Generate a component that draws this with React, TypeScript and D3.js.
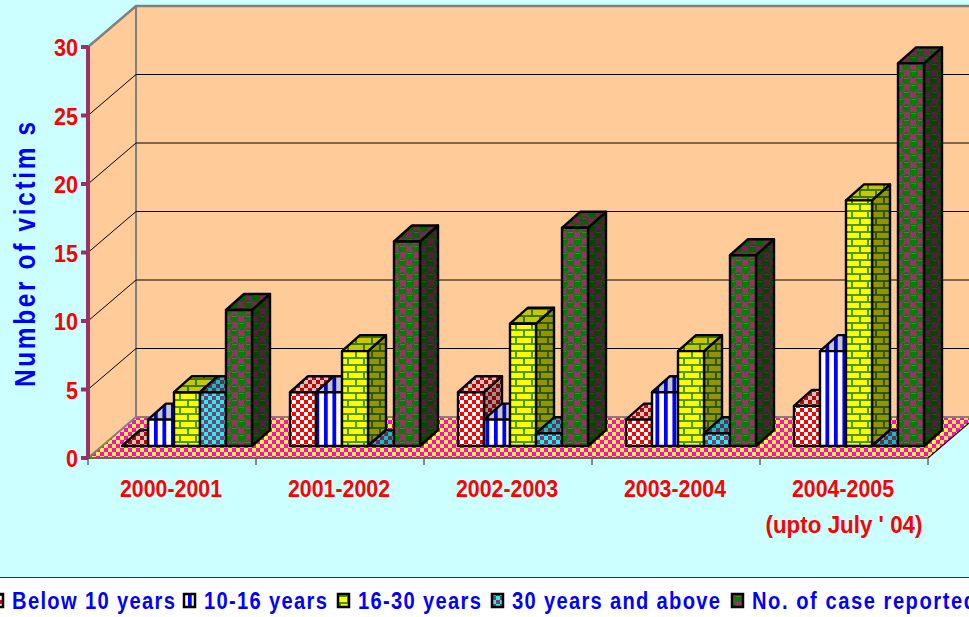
import React from "react";
import * as d3 from "d3";

const categories = ["2000-2001", "2001-2002", "2002-2003", "2003-2004", "2004-2005"];
const seriesNames = ["Below 10 years", "10-16 years", "16-30 years", "30 years and above", "No. of case reported"];
const below10 = [0, 4, 4, 2, 3];
const age10to16 = [2, 4, 2, 4, 7];
const age16to30 = [4, 7, 9, 7, 18];
const age30plus = [4, 0, 1, 1, 0];
const casesReported = [10, 15, 16, 14, 28];
const seriesValues = [below10, age10to16, age16to30, age30plus, casesReported];
const yTicks = [0, 5, 10, 15, 20, 25, 30];
const legendSwatchX = [-8, 184, 338, 492, 732];
const legendTextWidth = [163, 123, 123, 208, 224];
const patternIds = ["pRed", "pBlue", "pBrick", "pCyan", "pCase"];

const W = 969, H = 617;
const FONT = "'Liberation Sans', Arial, sans-serif";
const depth = { dx: 48, dy: -41 };
const barDepth = { dx: 18, dy: -16 };
const AXIS_COLOR = "#993366";
const SQUEEZE = 0.84;

const y = d3.scaleLinear().domain([0, 30]).range([458, 47]);
const x0 = d3.scaleBand<string>().domain(categories).range([88, 928]);
const x1 = d3.scaleBand<string>().domain(seriesNames).range([34, 164]);

const poly = (pts: [number, number][]) => d3.line()(pts) + "Z";

function Patterns() {
  return (
    <defs>
      <pattern id="pFloor" width="8" height="8" patternUnits="userSpaceOnUse">
        <rect width="8" height="8" fill="#FFFF00" />
        <rect width="4" height="4" fill="#FF00FF" />
        <rect x="4" y="4" width="4" height="4" fill="#FF00FF" />
      </pattern>
      <pattern id="pRed" width="8" height="8" patternUnits="userSpaceOnUse">
        <rect width="8" height="8" fill="#FFFFFF" />
        <rect width="4" height="4" fill="#FF0000" />
        <rect x="4" y="4" width="4" height="4" fill="#FF0000" />
      </pattern>
      <pattern id="pBlue" width="8.5" height="8" patternUnits="userSpaceOnUse">
        <rect width="8.5" height="8" fill="#FFFFFF" />
        <rect x="1" width="4" height="8" fill="#0000FF" />
      </pattern>
      <pattern id="pBrick" width="16" height="14" patternUnits="userSpaceOnUse">
        <rect width="16" height="14" fill="#FFFF00" />
        <rect y="0" width="16" height="2" fill="#4d9900" />
        <rect y="7" width="16" height="2" fill="#4d9900" />
        <rect x="3" y="0" width="2" height="7" fill="#4d9900" />
        <rect x="11" y="7" width="2" height="7" fill="#4d9900" />
      </pattern>
      <pattern id="pCyan" width="8" height="8" patternUnits="userSpaceOnUse">
        <rect width="8" height="8" fill="#00FFFF" />
        <rect width="4" height="4" fill="#993366" />
        <rect x="4" y="4" width="4" height="4" fill="#993366" />
      </pattern>
      <pattern id="pCase" width="14" height="14" patternUnits="userSpaceOnUse">
        <rect width="14" height="14" fill="#993366" />
        <circle cx="3.5" cy="3.5" r="4.4" fill="#008000" />
        <circle cx="10.5" cy="10.5" r="4.4" fill="#008000" />
        <path d="M1.5 2 A3 3 0 0 1 5.5 2" fill="none" stroke="#4d7a4d" strokeWidth="1" />
        <path d="M8.5 9 A3 3 0 0 1 12.5 9" fill="none" stroke="#4d7a4d" strokeWidth="1" />
      </pattern>
    </defs>
  );
}

function Bar({ x, base, top, w, pat }: { x: number; base: number; top: number; w: number; pat: string }) {
  const { dx, dy } = barDepth;
  const front = poly([[x, top], [x + w, top], [x + w, base], [x, base]]);
  const upper = poly([[x, top], [x + dx, top + dy], [x + w + dx, top + dy], [x + w, top]]);
  const side = poly([[x + w, top], [x + w + dx, top + dy], [x + w + dx, base + dy], [x + w, base]]);
  const stroke = { stroke: "#000", strokeWidth: 2.4, strokeLinejoin: "round" as const };
  return (
    <g>
      <path d={side} fill={`url(#${pat})`} />
      <path d={side} fill="#000" fillOpacity={0.42} {...stroke} />
      <path d={upper} fill={`url(#${pat})`} />
      <path d={upper} fill="#000" fillOpacity={0.22} {...stroke} />
      {top < base && <path d={front} fill={`url(#${pat})`} {...stroke} />}
    </g>
  );
}

export default function App() {
  const y0 = y(0);
  const y30 = y(30);
  const xL = x0.range()[0];
  const xR = x0.range()[1];
  const BAR_BASE_SHIFT = -12;
  const BAR_TOP_NUDGE = 1;
  return (
    <svg width={W} height={H} viewBox={`0 0 ${W} ${H}`} shapeRendering="crispEdges"
      style={{ position: "absolute", left: 0, top: 0, display: "block", background: "#CCFFFF" }}>
      <Patterns />
      <g shapeRendering="geometricPrecision">
        <path d={poly([[xL, y30], [xL + depth.dx, y30 + depth.dy], [W + 20, y30 + depth.dy], [W + 20, y0 + depth.dy], [xL + depth.dx, y0 + depth.dy], [xL, y0]])} fill="#FFCC99" />
        <path d={`M${xL} ${y30}L${xL + depth.dx} ${y30 + depth.dy}L${W + 20} ${y30 + depth.dy}`} fill="none" stroke="#808080" strokeWidth={2.5} />
        <path d={`M${xL + depth.dx} ${y30 + depth.dy}V${y0 + depth.dy}`} stroke="#808080" strokeWidth={2} fill="none" />
        {yTicks.slice(1, -1).map(t => (
          <path key={t} d={`M${xL} ${y(t)}L${xL + depth.dx} ${y(t) + depth.dy}H${W + 20}`} fill="none" stroke="#000" strokeWidth={1} />
        ))}
        <path d={poly([[xL, y0], [xL + depth.dx, y0 + depth.dy], [xR + depth.dx, y0 + depth.dy], [xR, y0]])} fill="url(#pFloor)" />
        <path d={`M${xL} ${y0}L${xL + depth.dx} ${y0 + depth.dy}H${W + 20}`} fill="none" stroke="#808080" strokeWidth={2} />
        <path d={`M${xR} ${y0}L${xR + depth.dx} ${y0 + depth.dy}`} fill="none" stroke="#000" strokeWidth={1.2} />
        <path d={`M${xL} ${y0}H${xR}`} fill="none" stroke="#666" strokeWidth={2} />
        {[...categories.map(c => x0(c)!), xR].map(t => (
          <path key={t} d={`M${t} ${y0}v7`} stroke="#666" strokeWidth={1.5} />
        ))}
        {categories.map((c, ci) => (
          <g key={c}>
            {seriesNames.map((s, si) => {
              const base = y0 + BAR_BASE_SHIFT;
              const v = seriesValues[si][ci];
              const top = base - (y0 - y(v)) + (v > 0 ? BAR_TOP_NUDGE : 0);
              return (
                <Bar key={s} x={x0(c)! + x1(s)!} w={x1.bandwidth()} base={base} top={top} pat={patternIds[si]} />
              );
            })}
          </g>
        ))}
        <path d={`M${xL} ${y30 - 1}V${y0 + 1}`} stroke={AXIS_COLOR} strokeWidth={4} fill="none" />
        {yTicks.map(t => (
          <path key={t} d={`M${xL - 7} ${y(t)}H${xL}`} stroke={AXIS_COLOR} strokeWidth={4} fill="none" />
        ))}
      </g>
      <g fontFamily={FONT} fontWeight="bold" shapeRendering="geometricPrecision">
        {yTicks.map(t => (
          <text key={t} x={78} y={y(t) + 9} textAnchor="end" fontSize={24} fill="#FF0000"
            textLength={String(t).length * 12} lengthAdjust="spacingAndGlyphs">{t}</text>
        ))}
        {categories.map(c => (
          <text key={c} x={x0(c)! + x0.bandwidth() / 2 - 1} y={497} textAnchor="middle" fontSize={24} fill="#FF0000"
            textLength={102} lengthAdjust="spacingAndGlyphs">{c}</text>
        ))}
        <text x={844} y={533} textAnchor="middle" fontSize={24} fill="#FF0000" textLength={157} lengthAdjust="spacingAndGlyphs">(upto July ' 04)</text>
        <text transform={`translate(35,387) rotate(-90) scale(${SQUEEZE},1)`} fontSize={29} fill="#0000FF"
          textLength={265 / SQUEEZE} lengthAdjust="spacing">Number of victim s</text>
      </g>
      <rect x={-2} y={577} width={W + 4} height={H} fill="#FFFFFF" stroke="#333" strokeWidth={1} />
      <g fontFamily={FONT} fontWeight="bold" shapeRendering="geometricPrecision">
        {seriesNames.map((s, i) => (
          <g key={s}>
            <rect x={legendSwatchX[i]} y={594} width={11} height={13} fill={`url(#${patternIds[i]})`} stroke="#000" strokeWidth={2.5} />
            <text transform={`translate(${legendSwatchX[i] + 20},609) scale(${SQUEEZE},1)`} fontSize={24} fill="#0000FF"
              textLength={legendTextWidth[i] / SQUEEZE} lengthAdjust="spacing">{s}</text>
          </g>
        ))}
      </g>
    </svg>
  );
}
